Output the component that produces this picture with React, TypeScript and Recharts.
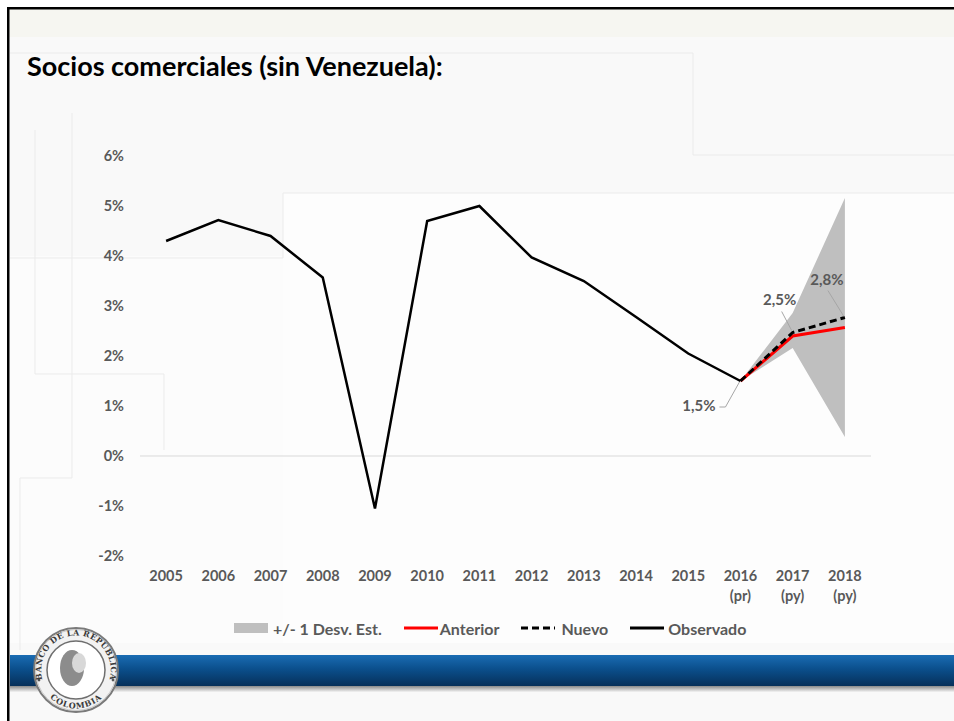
import {
  ComposedChart,
  Line,
  Area,
  XAxis,
  YAxis,
  ReferenceLine,
  LabelList,
} from "recharts";

const years = [2005, 2006, 2007, 2008, 2009, 2010, 2011, 2012, 2013, 2014, 2015, 2016, 2017, 2018];
const yearNotes = ["", "", "", "", "", "", "", "", "", "", "", "(pr)", "(py)", "(py)"];

const observado = [4.3, 4.72, 4.4, 3.57, -1.05, 4.7, 5.0, 3.97, 3.5, 2.78, 2.05, 1.5, null, null];
const anterior = [null, null, null, null, null, null, null, null, null, null, null, 1.5, 2.4, 2.57];
const nuevo = [null, null, null, null, null, null, null, null, null, null, null, 1.5, 2.47, 2.77];
const bandLow = [null, null, null, null, null, null, null, null, null, null, null, 1.5, 2.16, 0.38];
const bandHigh = [null, null, null, null, null, null, null, null, null, null, null, 1.5, 2.86, 5.16];

const yTicks = [-2, -1, 0, 1, 2, 3, 4, 5, 6];

const FONT = "Lato, 'Open Sans', sans-serif";
const GRAY_TEXT = "#595959";
const BAND = "#bfbfbf";

const data = years.map((year, i) => ({
  year,
  observado: observado[i],
  anterior: anterior[i],
  nuevo: nuevo[i],
  band: bandLow[i] == null ? null : [bandLow[i], bandHigh[i]],
}));

// leader-line callouts for the labelled points (relative to the point)
const callouts: Record<number, { tx: number; ty: number; anchor: string; path: string }> = {
  11: { tx: -25, ty: 30, anchor: "end", path: "M-21,26 L-15,26 L-1,1" },
  12: { tx: -13, ty: -28, anchor: "middle", path: "M-11,-21 L-1,-2" },
  13: { tx: -18, ty: -33, anchor: "middle", path: "M-17,-27 L-1,-1" },
};

function CalloutLabel(props: any) {
  const { x, y, value, index } = props;
  const c = callouts[index];
  if (!c || value == null) return null;
  const txt = `${Number(value).toFixed(1).replace(".", ",")}%`;
  return (
    <g>
      <path d={c.path} transform={`translate(${x},${y})`} stroke="#a6a6a6" strokeWidth={1} fill="none" />
      <text
        x={x + c.tx}
        y={y + c.ty}
        textAnchor={c.anchor}
        fill={GRAY_TEXT}
        fontSize={15}
        fontWeight={700}
        fontFamily={FONT}
      >
        {txt}
      </text>
    </g>
  );
}

function YearTick(props: any) {
  const { x, y, payload } = props;
  const i = years.indexOf(payload.value);
  return (
    <text x={x} y={y} textAnchor="middle" fill={GRAY_TEXT} fontSize={14.5} fontWeight={700} fontFamily={FONT}>
      <tspan x={x} dy={17}>{String(payload.value)}</tspan>
      {yearNotes[i] ? (
        <tspan x={x} dy={20}>{yearNotes[i]}</tspan>
      ) : null}
    </text>
  );
}

const legendItems = [
  { label: "+/- 1 Desv. Est.", kind: "box", color: BAND, gap: 5 },
  { label: "Anterior", kind: "line", color: "#ff0000", gap: 2 },
  { label: "Nuevo", kind: "dash", color: "#000000", gap: 6 },
  { label: "Observado", kind: "line", color: "#000000", gap: 4 },
];

function ChartLegend() {
  return (
    <div
      style={{
        position: "absolute",
        left: 234,
        top: 618,
        height: 20,
        display: "flex",
        alignItems: "center",
        fontFamily: FONT,
        fontWeight: 700,
        fontSize: 16,
        color: GRAY_TEXT,
        whiteSpace: "nowrap",
      }}
    >
      {legendItems.map((it) => (
        <div key={it.label} style={{ display: "flex", alignItems: "center", marginRight: 22 }}>
          <svg width={34} height={12} style={{ marginRight: it.gap }}>
            {it.kind === "box" ? (
              <rect x={0} y={1} width={34} height={10} fill={it.color} />
            ) : (
              <line
                x1={0}
                x2={34}
                y1={6}
                y2={6}
                stroke={it.color}
                strokeWidth={3}
                strokeDasharray={it.kind === "dash" ? "7 4" : undefined}
              />
            )}
          </svg>
          <span>{it.label}</span>
        </div>
      ))}
    </div>
  );
}

function Slide() {
  const faint = "#ebebeb";
  return (
    <svg width={954} height={721} style={{ position: "absolute", left: 0, top: 0 }}>
      <defs>
        <linearGradient id="band" x1="0" y1="0" x2="0" y2="1">
          <stop offset="0%" stopColor="#1a6cb3" />
          <stop offset="45%" stopColor="#0b4f8c" />
          <stop offset="100%" stopColor="#06305a" />
        </linearGradient>
        <linearGradient id="shadow" x1="0" y1="0" x2="0" y2="1">
          <stop offset="0%" stopColor="#8a8a8a" />
          <stop offset="100%" stopColor="#f4f4f4" />
        </linearGradient>
        <path id="logoTop" d="M45.8,687.5 A34.8,34.8 0 1 1 106.2,687.5" />
        <path id="logoBottom" d="M49.5,697.5 A37.5,37.5 0 0 0 102.5,697.5" />
      </defs>
      <rect x={0} y={0} width={954} height={721} fill="#ffffff" />
      <rect x={9} y={9} width={945} height={712} fill="#f9f9f9" />
      <rect x={9} y={9} width={945} height={28} fill="#f6f6f1" />
      <rect x={283} y={193} width={671} height={450} fill="#fdfdfd" />
      <rect x={10} y={256} width={273} height={387} fill="#fcfcfc" />
      {/* faint slide decorations */}
      <polyline points="10,53 693,53 693,155 954,155" stroke={faint} fill="none" />
      <polyline points="10,258 283,258 283,193 954,193" stroke={faint} fill="none" />
      <polyline points="35,130 35,374 164,374 164,450" stroke={faint} fill="none" />
      <polyline points="72,113 72,478 20,478 20,650" stroke={faint} fill="none" />
      {/* borders */}
      <rect x={7} y={7} width={947} height={2.5} fill="#000" />
      <rect x={7} y={7} width={2.5} height={714} fill="#000" />
      {/* bottom band */}
      <rect x={10} y={686} width={944} height={6} fill="url(#shadow)" />
      <rect x={10} y={655} width={944} height={31} fill="url(#band)" />
      {/* logo */}
      <circle cx={76} cy={670} r={42} fill="#f2f2f2" stroke="#7a7a7a" strokeWidth={2} />
      <circle cx={76} cy={670} r={40.5} fill="none" stroke="#c9c9c9" strokeWidth={1} />
      <circle cx={76} cy={670} r={29} fill="#ffffff" stroke="#6f6f6f" strokeWidth={1.5} />
      <ellipse cx={72} cy={668} rx={12} ry={18} fill="#8c8c8c" />
      <ellipse cx={79} cy={663} rx={7} ry={10} fill="#d8d8d8" />
      <circle cx={39} cy={680} r={1.4} fill="#555" />
      <circle cx={113} cy={680} r={1.4} fill="#555" />
      <text fontSize={8} fontWeight={700} fontFamily="'DejaVu Serif', serif" fill="#3a3a3a" letterSpacing={0.3}>
        <textPath href="#logoTop" startOffset="50%" textAnchor="middle">
          BANCO DE LA REPUBLICA
        </textPath>
      </text>
      <text fontSize={8} fontWeight={700} fontFamily="'DejaVu Serif', serif" fill="#3a3a3a" letterSpacing={0.8}>
        <textPath href="#logoBottom" startOffset="50%" textAnchor="middle">
          COLOMBIA
        </textPath>
      </text>
      {/* title */}
      <text x={27} y={76} fontSize={27} fontWeight={700} fontFamily={FONT} fill="#000">
        Socios comerciales (sin Venezuela):
      </text>
    </svg>
  );
}

export default function App() {
  return (
    <div style={{ position: "absolute", left: 0, top: 0, width: 954, height: 721, overflow: "hidden" }}>
      <Slide />
      <div style={{ position: "absolute", left: 0, top: 0 }}>
        <ComposedChart
          width={954}
          height={721}
          data={data}
          margin={{ top: 156, right: 83, bottom: 125, left: 80 }}
        >
          <XAxis
            dataKey="year"
            type="number"
            domain={[2004.5, 2018.5]}
            ticks={years}
            axisLine={false}
            tickLine={false}
            height={40}
            tick={<YearTick />}
            interval={0}
          />
          <YAxis
            type="number"
            domain={[-2, 6]}
            ticks={yTicks}
            width={60}
            axisLine={false}
            tickLine={false}
            tickMargin={10}
            tickFormatter={(v) => `${v}%`}
            tick={{ fill: GRAY_TEXT, fontSize: 14.5, fontWeight: 700, fontFamily: FONT }}
          />
          <ReferenceLine y={0} stroke="#d9d9d9" strokeWidth={1} />
          <Area
            dataKey="band"
            type="linear"
            stroke="none"
            fill={BAND}
            fillOpacity={1}
            isAnimationActive={false}
            activeDot={false}
          />
          <Line
            dataKey="anterior"
            type="linear"
            stroke="#ff0000"
            strokeWidth={3}
            dot={false}
            activeDot={false}
            isAnimationActive={false}
          />
          <Line
            dataKey="observado"
            type="linear"
            stroke="#000000"
            strokeWidth={2.5}
            dot={false}
            activeDot={false}
            isAnimationActive={false}
          />
          <Line
            dataKey="nuevo"
            type="linear"
            stroke="#000000"
            strokeWidth={3}
            strokeDasharray="7 4"
            dot={false}
            activeDot={false}
            isAnimationActive={false}
          >
            <LabelList dataKey="nuevo" content={<CalloutLabel />} />
          </Line>
        </ComposedChart>
      </div>
      <ChartLegend />
    </div>
  );
}
